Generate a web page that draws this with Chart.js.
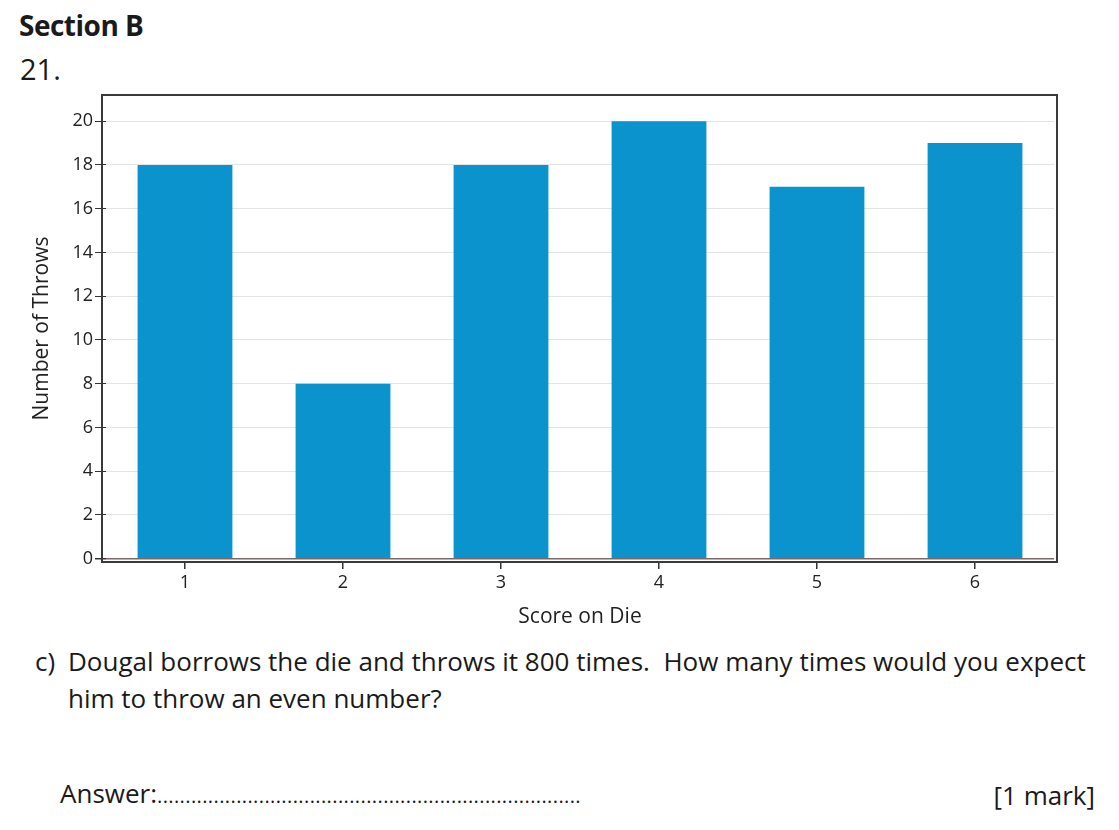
<!DOCTYPE html>
<html>
<head>
<meta charset="utf-8">
<script src="https://cdn.jsdelivr.net/npm/chart.js@4.4.1/dist/chart.umd.min.js"></script>
<style>
  html, body { margin: 0; padding: 0; background: #ffffff; }
  body { width: 1119px; height: 830px; position: relative; overflow: hidden; font-family: "Open Sans", sans-serif; color: #1a1a1a; }
  .t { position: absolute; white-space: nowrap; line-height: 1; }
  .q { font-family: "Open Sans", sans-serif; font-size: 26px; letter-spacing: 0px; }
  #wrap { position: absolute; left: 0; top: 60px; width: 1119px; height: 580px; }
</style>
</head>
<body>
<div class="t" id="sec" style="left:19px; top:11px; font-size:28px; font-weight:700; letter-spacing:-0.5px;">Section B</div>
<div class="t" id="num" style="left:20px; top:54px; font-size:29px;">21.</div>
<div id="wrap"><canvas id="c" width="1119" height="580"></canvas></div>
<div class="t q" style="left:35px; top:648px;">c)</div>
<div class="t q" style="left:68px; top:648px;">Dougal borrows the die and throws it 800 times.&nbsp; How many times would you expect</div>
<div class="t q" style="left:68px; top:685px;">him to throw an even number?</div>
<div class="t q" style="left:60px; top:780px;">Answer:<span style="letter-spacing:0.4px; font-size:20px;">...........................................................................</span></div>
<div class="t q" style="right:24px; top:782px;">[1 mark]</div>
<script>
const categories = ["1", "2", "3", "4", "5", "6"];
const throwsCount = [18, 8, 18, 20, 17, 19];
const yTickValues = [0, 2, 4, 6, 8, 10, 12, 14, 16, 18, 20];
const xTitle = "Score on Die";
const yTitle = "Number of Throws";

const framePlugin = {
  id: 'frame',
  afterDraw(chart) {
    const {ctx, chartArea: a} = chart;
    ctx.save();
    ctx.strokeStyle = '#3a3a3a';
    ctx.lineWidth = 2;
    ctx.strokeRect(a.left - 4, a.top, (a.right + 3) - (a.left - 4), a.bottom - a.top);
    ctx.restore();
  }
};

new Chart(document.getElementById('c'), {
  type: 'bar',
  data: {
    labels: categories,
    datasets: [{
      data: throwsCount,
      backgroundColor: '#0a93cd',
      borderWidth: 0,
      barPercentage: 0.6,
      categoryPercentage: 1.0
    }]
  },
  options: {
    responsive: false,
    animation: false,
    layout: { padding: { top: 35, right: 65, left: 0, bottom: 0 } },
    plugins: { legend: { display: false }, tooltip: { enabled: false } },
    scales: {
      x: {
        grid: { display: true, offset: false, drawOnChartArea: false, drawTicks: true, tickLength: 7, tickColor: '#333', lineWidth: 1.5 },
        border: { display: false },
        ticks: { color: '#222', font: { family: 'Open Sans', size: 18 }, padding: 3, maxRotation: 0 },
        title: { display: true, text: xTitle, color: '#222', font: { family: 'Open Sans', size: 21 }, padding: { top: 0, bottom: 10 } },
        afterFit(s) { s.height = 78; }
      },
      y: {
        min: -0.15,
        max: 21.2,
        afterBuildTicks(s) { s.ticks = yTickValues.map(v => ({ value: v })); },
        grid: {
          drawTicks: true, tickLength: 11, tickColor: '#333',
          color: ctx => (ctx.tick && ctx.tick.value === 0) ? '#7a6868' : '#e4e4e4',
          lineWidth: ctx => (ctx.tick && ctx.tick.value === 0) ? 1.5 : 1
        },
        border: { display: false },
        ticks: { color: '#222', font: { family: 'Open Sans', size: 18 }, padding: 2 },
        title: { display: true, text: yTitle, color: '#222', font: { family: 'Open Sans', size: 21 }, padding: { top: 29, bottom: 0 } },
        afterFit(s) { s.width = 106; }
      }
    }
  },
  plugins: [framePlugin]
});
</script>
</body>
</html>
